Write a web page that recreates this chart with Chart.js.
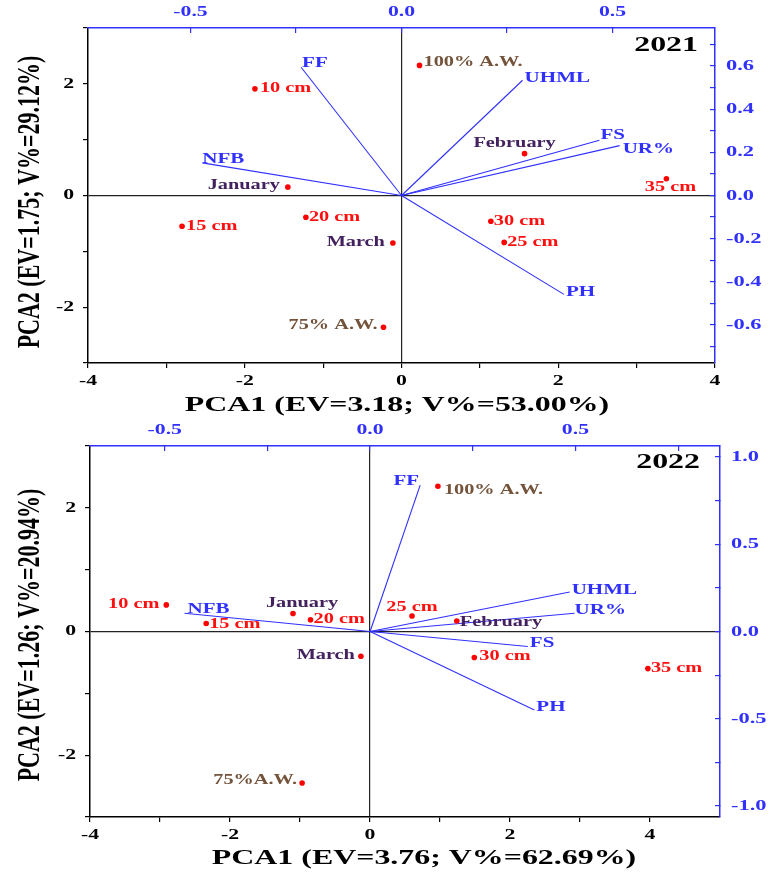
<!DOCTYPE html>
<html>
<head>
<meta charset="utf-8">
<script src="https://cdn.jsdelivr.net/npm/chart.js@4.4.1/dist/chart.umd.min.js"></script>
<style>
  html, body { margin: 0; padding: 0; background: #fff; }
  .panel { position: absolute; left: 0; width: 775px; }
  #top { top: 0; height: 420px; }
  #bottom { top: 420px; height: 454px; }
</style>
</head>
<body>
<div class="panel" id="top"><canvas id="c2021" width="775" height="420"></canvas></div>
<div class="panel" id="bottom"><canvas id="c2022" width="775" height="454"></canvas></div>
<script>
const obsNames2021 = ['10 cm', '15 cm', '20 cm', '25 cm', '30 cm', '35 cm', 'January', 'February', 'March', '100% A.W.', '75% A.W.'];
const obsNames2022 = ['10 cm', '15 cm', '20 cm', '25 cm', '30 cm', '35 cm', 'January', 'February', 'March', '100% A.W.', '75%A.W.'];
const obsGroups = ['depth', 'depth', 'depth', 'depth', 'depth', 'depth', 'month', 'month', 'month', 'water', 'water'];
const pc1_2021 = [-1.87, -2.80, -1.22, 1.31, 1.14, 3.38, -1.45, 1.57, -0.11, 0.23, -0.23];
const pc2_2021 = [1.91, -0.55, -0.39, -0.84, -0.46, 0.30, 0.15, 0.75, -0.85, 2.33, -2.36];
const pc1_2022 = [-2.91, -2.34, -0.85, 0.60, 1.49, 3.97, -1.10, 1.24, -0.13, 0.97, -0.97];
const pc2_2022 = [0.43, 0.13, 0.19, 0.25, -0.42, -0.60, 0.29, 0.17, -0.40, 2.35, -2.45];

// loadings (variables)
const varNames = ['FF', 'NFB', 'UHML', 'FS', 'UR%', 'PH'];
const load1_2021 = [-0.238, -0.472, 0.287, 0.469, 0.517, 0.385];
const load2_2021 = [0.594, 0.151, 0.534, 0.256, 0.231, -0.458];
const load1_2022 = [0.122, -0.452, 0.486, 0.384, 0.498, 0.400];
const load2_2022 = [0.839, 0.105, 0.226, -0.086, 0.105, -0.450];

// ticks
const scoreMajor = [-4, -2, 0, 2, 4];
const scoreMinor2021 = [-3, -1, 1, 3];
const scoreMinor2022 = [-3, -1, 1, 3];
const pc2Major = [-2, 0, 2];
const pc2Minor = [-3, -1, 1, 3];
const loadXMajor = [-0.5, 0, 0.5];
const loadXMinor2021 = [-0.25, 0.25];
const loadXMinor2022 = [-0.25, 0.25, 0.75];
const loadYMajor2021 = [-0.6, -0.4, -0.2, 0, 0.2, 0.4, 0.6];
const loadYMinor2021 = [-0.7, -0.5, -0.3, -0.1, 0.1, 0.3, 0.5, 0.7];
const loadYMajor2022 = [-1, -0.5, 0, 0.5, 1];
const loadYMinor2022 = [-0.75, -0.25, 0.25, 0.75];

const S = 1.45; // the source figure is stretched sideways
const SERIF = '"Liberation Serif", "Times New Roman", serif';
const BLUE = '#3030ff';
const groupColor = { depth: '#ff1010', month: '#42215e', water: '#74533b' };

function txt(ctx, s, x, y, size, color, align, rot) {
  ctx.save();
  ctx.translate(x, y);
  ctx.scale(S, 1);
  if (rot) ctx.rotate(-Math.PI / 2);
  ctx.font = 'bold ' + size + 'px ' + SERIF;
  ctx.fillStyle = color;
  ctx.textAlign = align || 'left';
  ctx.textBaseline = 'middle';
  ctx.fillText(s, 0, 0);
  ctx.restore();
}

function axis(position, min, max, major, minor, size, color, inward, zeroLine) {
  return {
    type: 'linear',
    position: position,
    min: min,
    max: max,
    afterBuildTicks: s => {
      s.ticks = major.concat(minor).sort((a, b) => a - b).map(v => ({ value: v }));
    },
    afterFit: s => {
      if (position === 'top' || position === 'bottom') s.height = size;
      else s.width = size;
    },
    ticks: { display: false },
    border: { color: color, width: 1.5 },
    grid: {
      drawOnChartArea: zeroLine,
      color: c => (c.tick && c.tick.value === 0) ? '#222' : 'rgba(0,0,0,0)',
      lineWidth: 1.2,
      tickColor: color,
      tickLength: inward ? -5 : 5,
      tickWidth: 1.2
    }
  };
}

function makeBiplot(id, cfg) {
  const datasets = [{
    type: 'scatter',
    data: cfg.pc1.map((v, i) => ({ x: v, y: cfg.pc2[i] })),
    xAxisID: 'x', yAxisID: 'y',
    pointRadius: 2.8,
    pointBackgroundColor: '#ff0000',
    pointBorderWidth: 0
  }];
  varNames.forEach((n, i) => {
    datasets.push({
      type: 'line',
      data: [{ x: 0, y: 0 }, { x: cfg.l1[i], y: cfg.l2[i] }],
      xAxisID: 'x2', yAxisID: 'y2',
      borderColor: BLUE,
      borderWidth: 1.1,
      pointRadius: 0
    });
  });

  const labels = {
    id: 'labels',
    afterDraw(chart) {
      const ctx = chart.ctx, a = chart.chartArea, sc = chart.scales;
      // tick labels
      scoreMajor.forEach(v => {
        if (v >= sc.x.min && v <= sc.x.max) txt(ctx, String(v), sc.x.getPixelForValue(v), a.bottom + 18, 15, '#000', 'center');
      });
      pc2Major.forEach(v => txt(ctx, String(v), a.left - 14, sc.y.getPixelForValue(v), 15, '#000', 'right'));
      loadXMajor.forEach(v => txt(ctx, v.toFixed(1), sc.x2.getPixelForValue(v), a.top - 16, 15, BLUE, 'center'));
      cfg.yMajor.forEach(v => txt(ctx, v.toFixed(1), a.right + 11, sc.y2.getPixelForValue(v), 15.5, BLUE, 'left'));
      // axis titles
      txt(ctx, cfg.xTitle, cfg.xTitlePos[0], cfg.xTitlePos[1], 22, '#000', 'center');
      txt(ctx, cfg.yTitle, cfg.yTitlePos[0], cfg.yTitlePos[1], 22, '#000', 'center', true);
      txt(ctx, cfg.year, a.right - cfg.yearOff[0], a.top + cfg.yearOff[1], 22, '#000', 'right');
      // point labels
      const pts = chart.getDatasetMeta(0).data;
      cfg.names.forEach((n, i) => {
        const p = cfg.obsPlace[i];
        txt(ctx, n, pts[i].x + p[1], pts[i].y + p[2], 14, groupColor[obsGroups[i]], p[0]);
      });
      varNames.forEach((n, i) => {
        const e = chart.getDatasetMeta(i + 1).data[1];
        const p = cfg.varPlace[i];
        txt(ctx, n, e.x + p[1], e.y + p[2], 14.5, BLUE, p[0]);
      });
    }
  };

  return new Chart(document.getElementById(id), {
    data: { datasets: datasets },
    options: {
      responsive: false,
      animation: false,
      layout: { padding: 0 },
      plugins: { legend: { display: false }, tooltip: { enabled: false } },
      scales: {
        x: axis('bottom', cfg.xMin, cfg.xMax, scoreMajor, cfg.xMinor, cfg.box[0], '#000', false, true),
        y: axis('left', -3, 3, pc2Major, pc2Minor, cfg.box[1], '#000', false, true),
        x2: axis('top', cfg.x2Min, cfg.x2Max, loadXMajor, cfg.x2Minor, cfg.box[2], BLUE, true, false),
        y2: axis('right', -cfg.y2Lim, cfg.y2Lim, cfg.yMajor, cfg.yMinor, cfg.box[3], BLUE, true, false)
      }
    },
    plugins: [labels]
  });
}

makeBiplot('c2021', {
  year: '2021',
  names: obsNames2021, pc1: pc1_2021, pc2: pc2_2021, l1: load1_2021, l2: load2_2021,
  xMin: -4, xMax: 4, xMinor: scoreMinor2021,
  x2Min: -0.743, x2Max: 0.743, x2Minor: loadXMinor2021,
  y2Lim: 0.776, yMajor: loadYMajor2021, yMinor: loadYMinor2021,
  box: [57, 88, 28, 60],
  xTitle: 'PCA1 (EV=3.18; V%=53.00%)', xTitlePos: [397, 405],
  yTitle: 'PCA2 (EV=1.75; V%=29.12%)', yTitlePos: [31, 202],
  yearOff: [17, 17],
  obsPlace: [['left', 5, 0], ['left', 4, 0], ['left', 3, 0], ['left', 3, 0], ['left', 3, 0], ['center', 4, 9],
             ['right', -8, -2], ['center', -10, -10], ['right', -8, -1], ['left', 4, -3], ['right', -6, -2]],
  varPlace: [['left', 1, -4], ['left', 0, -4], ['left', 2, -2], ['left', 1, -5], ['left', 3, 4], ['left', 2, -2]]
});

makeBiplot('c2022', {
  year: '2022',
  names: obsNames2022, pc1: pc1_2022, pc2: pc2_2022, l1: load1_2022, l2: load2_2022,
  xMin: -4, xMax: 5, xMinor: scoreMinor2022,
  x2Min: -0.682, x2Max: 0.852, x2Minor: loadXMinor2022,
  y2Lim: 1.063, yMajor: loadYMajor2022, yMinor: loadYMinor2022,
  box: [57, 90, 26, 55],
  xTitle: 'PCA1 (EV=3.76; V%=62.69%)', xTitlePos: [424, 438],
  yTitle: 'PCA2 (EV=1.26; V%=20.94%)', yTitlePos: [31, 215],
  yearOff: [20, 16],
  obsPlace: [['right', -7, -1], ['left', 3, 1], ['left', 3, 0], ['center', 0, -9], ['left', 5, -1], ['left', 3, 0],
             ['center', 9, -10], ['left', 3, 1], ['right', -6, -1], ['left', 6, 4], ['right', -5, -3]],
  varPlace: [['right', -1, -4], ['left', 3, -4], ['left', 2, -2], ['left', 2, -3], ['left', 0, -3], ['left', 2, -3]]
});
</script>
</body>
</html>
